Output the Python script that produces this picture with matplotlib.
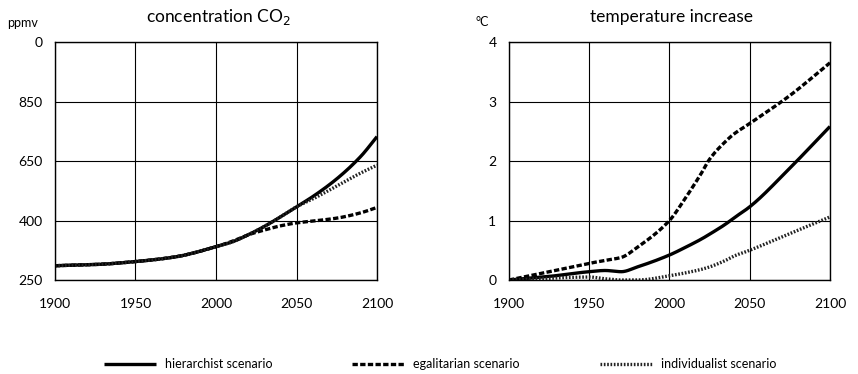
import matplotlib
matplotlib.use("Agg")
import matplotlib.pyplot as plt
import numpy as np

plt.rcParams['font.family'] = ['Lato', 'DejaVu Sans']

# CO2 panel: y positions on an equally spaced (categorical) axis
co2_tick_labels = ["250", "400", "650", "850", "0"]
co2_years = [1900, 1925, 1950, 1975, 2000, 2010, 2020, 2030, 2040, 2050, 2060, 2075, 2090, 2100]
co2_hier = [0.24, 0.26, 0.31, 0.39, 0.56, 0.64, 0.76, 0.90, 1.06, 1.23, 1.40, 1.70, 2.08, 2.41]
co2_egal = [0.24, 0.26, 0.31, 0.39, 0.56, 0.65, 0.76, 0.84, 0.91, 0.96, 0.99, 1.04, 1.13, 1.22]
co2_indiv = [0.24, 0.26, 0.31, 0.39, 0.56, 0.64, 0.76, 0.90, 1.06, 1.23, 1.36, 1.58, 1.80, 1.93]

# Temperature panel
t_years = [1900, 1925, 1950, 1960, 1970, 1980, 2000, 2010, 2020, 2025, 2035, 2040, 2050, 2075, 2100]
t_hier = [0.0, 0.06, 0.14, 0.16, 0.14, 0.22, 0.42, 0.55, 0.69, 0.77, 0.94, 1.04, 1.23, 1.88, 2.58]
t_egal = [0.0, 0.14, 0.28, 0.33, 0.38, 0.55, 1.00, 1.38, 1.80, 2.03, 2.33, 2.45, 2.63, 3.10, 3.65]
t_indiv = [0.0, 0.03, 0.05, 0.02, 0.0, 0.0, 0.07, 0.12, 0.18, 0.22, 0.33, 0.40, 0.50, 0.78, 1.06]

x_ticks = [1900, 1950, 2000, 2050, 2100]
scenarios = ["hierarchist scenario", "egalitarian scenario", "individualist scenario"]

fig = plt.figure(figsize=(8.58, 3.74), dpi=100)
ax1 = fig.add_axes([0.0641, 0.2513, 0.3753, 0.6364])
ax2 = fig.add_axes([0.5932, 0.2513, 0.3741, 0.6364])

styles = [dict(color='black', lw=2.4, ls='-'),
          dict(color='black', lw=2.4, ls=(0, (1.6, 0.7))),
          dict(color='#222222', lw=2.4, ls=(0, (0.5, 0.5)))]

def smooth(xs, ys, n=400):
    xs = np.asarray(xs, float); ys = np.asarray(ys, float)
    xx = np.linspace(xs[0], xs[-1], n)
    h = np.diff(xs); d = np.diff(ys) / h
    m = np.zeros_like(ys)
    for i in range(1, len(ys) - 1):
        if d[i-1] * d[i] > 0:
            w1 = 2*h[i] + h[i-1]; w2 = h[i] + 2*h[i-1]
            m[i] = (w1 + w2) / (w1/d[i-1] + w2/d[i])
    m[0] = d[0]; m[-1] = d[-1]
    idx = np.clip(np.searchsorted(xs, xx) - 1, 0, len(xs) - 2)
    t = (xx - xs[idx]) / h[idx]
    h00 = 2*t**3 - 3*t**2 + 1; h10 = t**3 - 2*t**2 + t
    h01 = -2*t**3 + 3*t**2; h11 = t**3 - t**2
    yy = h00*ys[idx] + h10*h[idx]*m[idx] + h01*ys[idx+1] + h11*h[idx]*m[idx+1]
    return xx, yy

for ax, xs, ys_list, yt in [(ax1, co2_years, [co2_hier, co2_egal, co2_indiv], co2_tick_labels),
                            (ax2, t_years, [t_hier, t_egal, t_indiv], ["0", "1", "2", "3", "4"])]:
    for ys, st, lab in zip(ys_list, styles, scenarios):
        xx, yy = smooth(xs, ys)
        ax.plot(xx, yy, label=lab, **st, solid_capstyle='butt', dash_capstyle='butt')
    ax.set_xlim(1900, 2100)
    ax.set_ylim(0, 4)
    ax.set_xticks(x_ticks)
    ax.set_yticks(range(5))
    ax.set_yticklabels(yt)
    ax.grid(True, color='black', lw=0.8)
    ax.set_axisbelow(True)
    ax.tick_params(axis='x', length=0, labelsize=10, pad=13)
    ax.tick_params(axis='y', length=0, labelsize=10, pad=9)
    for s in ax.spines.values():
        s.set_linewidth(1.0)

fig.text(218/858, 1 - 17/374, "concentration CO$_2$", fontsize=12.5, ha='center', va='center')
fig.text(671/858, 1 - 17/374, "temperature increase", fontsize=12.5, ha='center', va='center')
fig.text(23/858, 1 - 23/374, "ppmv", fontsize=9, ha='center', va='center')
fig.text(482/858, 1 - 22/374, "°C", fontsize=9, ha='center', va='center')

handles, labels = ax1.get_legend_handles_labels()
fig.legend(handles, labels, loc='center', bbox_to_anchor=(440/858, 1 - 364/374),
           ncol=3, frameon=False, fontsize=9, handlelength=4.16, columnspacing=6.4,
           handletextpad=0.72)

fig.savefig("out.png", dpi=100)
